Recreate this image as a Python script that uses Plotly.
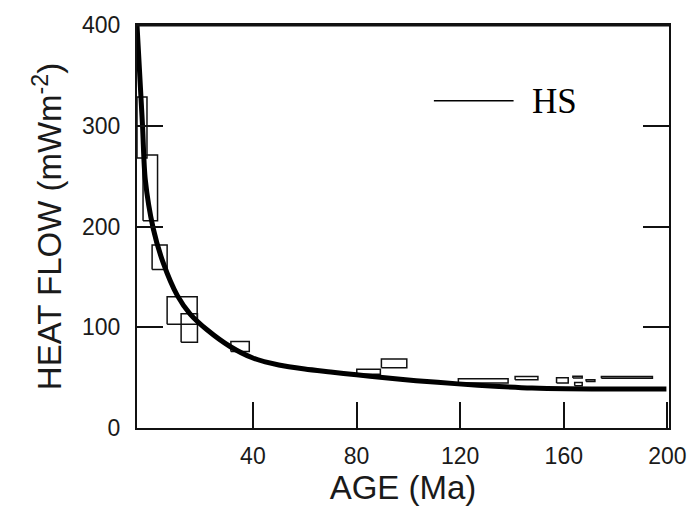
import plotly.graph_objects as go

# HS model curve (age in Ma on the picture's tick scale, heat flow mW/m^2)
hs_age = [-4.73, -2.6, -1.54, 1.54, 5.4, 10.8, 15.8, 22.3, 31.2, 40.0, 50.0, 60.0, 70.0,
          80.0, 90.0, 103.0, 119.2, 135.0, 147.7, 160.8, 180.0, 199.6]
hs_flow = [400, 300, 246.6, 197.9, 163.8, 131.6, 113.1, 97.5, 80.9, 69.5, 62.5, 58.5, 55.6,
           52.8, 50.2, 47.0, 43.8, 41.2, 39.6, 38.9, 38.7, 38.7]

# observed heat-flow boxes (age range x heat-flow range)
box_age0 = [-4.73, -2.4, 1.1, 6.9, 12.3, 31.5, 80.1, 89.6, 119.3, 141.2, 157.2, 163.5, 164.2, 168.6, 174.5]
box_age1 = [-0.88, 3.2, 6.9, 18.5, 18.6, 38.6, 89.2, 99.4, 138.5, 150.0, 161.7, 167.1, 167.1, 172.0, 194.2]
box_flow0 = [268.0, 205.7, 157.2, 103.0, 85.1, 76.0, 53.3, 59.8, 44.6, 47.8, 44.6, 49.7, 41.9, 46.1, 49.4]
box_flow1 = [328.5, 271.0, 181.6, 130.3, 113.4, 85.8, 58.2, 68.5, 49.0, 51.0, 50.0, 51.4, 45.1, 47.8, 51.0]

x_ticks = [40, 80, 120, 160, 200]
y_ticks = [0, 100, 200, 300, 400]

bx, by = [], []
for a0, a1, f0, f1 in zip(box_age0, box_age1, box_flow0, box_flow1):
    bx += [a0, a1, a1, a0, a0, None]
    by += [f0, f0, f1, f1, f0, None]

fig = go.Figure()
fig.add_trace(go.Scatter(x=bx, y=by, mode="lines", line=dict(color="#111", width=1.5),
                         hoverinfo="skip", showlegend=False))
fig.add_trace(go.Scatter(x=hs_age, y=hs_flow, mode="lines", name="HS",
                         line=dict(color="#000", width=5, shape="spline", smoothing=0.8),
                         showlegend=False))

# legend key
fig.add_shape(type="line", xref="paper", yref="paper", x0=(435 - 137) / 534, x1=(515 - 137) / 534,
              y0=(433 - 100) / 410, y1=(433 - 100) / 410, line=dict(color="#000", width=1.5))
fig.add_annotation(text="HS", xref="paper", yref="paper", x=(531 - 137) / 534, y=(433 - 101) / 410,
                   xanchor="left", yanchor="middle", showarrow=False,
                   font=dict(family="Liberation Serif, Times New Roman, serif", size=35, color="#000"))
# heavier top frame line as in the scan
fig.add_shape(type="line", xref="paper", yref="paper", x0=0, x1=1, y0=1, y1=1,
              line=dict(color="#111", width=3))

axis_font = dict(family="Liberation Sans, Arial, Helvetica, sans-serif", size=23, color="#1a1a1a")
title_font = dict(family="Liberation Sans, Arial, Helvetica, sans-serif", size=33, color="#1a1a1a")
fig.update_xaxes(range=[-4.73, 200.6], tickvals=x_ticks, ticktext=[str(v) for v in x_ticks],
                 ticks="inside", ticklen=26, tickwidth=1.8, tickcolor="#111",
                 showline=True, linecolor="#111", linewidth=2, mirror=True,
                 showgrid=False, zeroline=False, tickfont=axis_font, ticklabelstandoff=6,
                 title=dict(text="AGE (Ma)", font=title_font, standoff=4))
fig.update_yaxes(range=[0, 400], tickvals=y_ticks, ticktext=[str(v) for v in y_ticks],
                 ticks="inside", ticklen=26, tickwidth=1.8, tickcolor="#111",
                 showline=True, linecolor="#111", linewidth=2, mirror="ticks",
                 showgrid=False, zeroline=False, tickfont=axis_font, ticklabelstandoff=10,
                 title=dict(text="HEAT FLOW (mWm<sup>-2</sup>)", font=title_font, standoff=10))
fig.update_layout(width=699, height=508, margin=dict(l=137, r=28, t=23, b=75),
                  paper_bgcolor="white", plot_bgcolor="white", showlegend=False)
fig.write_html("out.html", config={"displayModeBar": False},
               post_script="document.body.style.margin='0';document.body.style.padding='0';")
